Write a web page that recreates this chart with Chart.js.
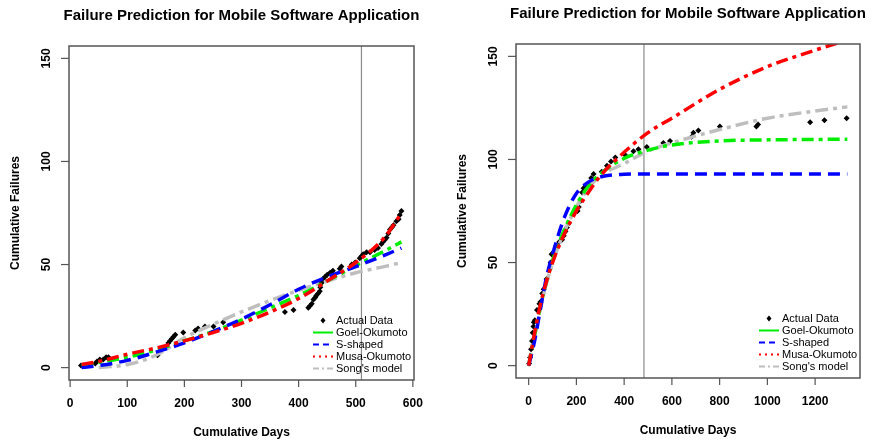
<!DOCTYPE html>
<html>
<head>
<meta charset="utf-8">
<script src="https://cdn.jsdelivr.net/npm/chart.js@4/dist/chart.umd.min.js"></script>
<style>
  html, body { margin: 0; padding: 0; background: #fff; }
  .panel { position: absolute; top: 0; width: 438px; height: 445px; }
</style>
</head>
<body>
<div class="panel" style="left:0"><canvas id="leftChart" width="438" height="445"></canvas></div>
<div class="panel" style="left:438px"><canvas id="rightChart" width="438" height="445"></canvas></div>
<script>
// Left panel: observed data
const leftDays = [19, 23, 44, 47, 52, 58, 63, 67, 153, 172,
    175, 178, 181, 184, 198, 219, 224, 236, 251, 268,
    376, 391, 417, 420, 423, 426, 429, 431, 434, 437,
    438, 440, 443, 446, 450, 455, 460, 472, 475, 493,
    499, 507, 510, 513, 519, 525, 533, 539, 545, 548,
    551, 554, 557, 560, 563, 566, 571, 575, 577, 580];
const leftFailures = [1, 1, 2, 3, 4, 4, 5, 5, 6, 12,
    13, 14, 15, 16, 17, 18, 19, 20, 20, 22,
    27, 28, 29, 30, 31, 33, 34, 35, 36, 37,
    39, 41, 43, 44, 45, 46, 47, 48, 49, 50,
    51, 53, 54, 55, 56, 56, 57, 58, 60, 61,
    62, 63, 65, 67, 68, 69, 71, 72, 74, 76];

// Left panel: model curves
const leftModelDays = [20, 50, 100, 150, 200, 250, 300, 350, 400, 450, 500, 550, 580];
const leftGoel  = [1, 2.5, 5, 8.5, 13, 17.5, 23, 29, 35, 42, 49.5, 56.5, 61];
const leftS     = [0, 1, 3.5, 7.5, 12, 17.5, 23.5, 30.5, 38, 44, 49, 54.5, 58];
const leftMusa  = [1.5, 3, 6.5, 9.5, 13, 17, 21.5, 27, 33.5, 42, 51, 63, 75];
const leftSong  = [null, 0, 1.5, 6, 14.5, 21, 27, 32.5, 37.5, 42, 46, 49, 51];

// Right panel: observed data
const rightDays = [2, 6, 10, 14, 17, 20, 22, 26, 35, 45,
    50, 57, 63, 75, 88, 92, 96, 104, 118, 128,
    140, 147, 154, 160, 168, 205, 210, 218, 224, 230,
    238, 262, 272, 306, 328, 345, 363, 405, 439, 460,
    495, 564, 592, 683, 690, 711, 801, 954, 961, 1179,
    1239, 1332];
const rightFailures = [1, 4, 8, 12, 16, 19, 21, 22, 27, 30,
    31, 35, 37, 42, 47, 50, 54, 55, 58, 60,
    61, 63, 65, 67, 69, 75, 77, 80, 84, 86,
    87, 91, 93, 94, 97, 99, 101, 102, 104, 105,
    106, 108, 109, 111, 113, 114, 116, 116, 117, 118,
    119, 120];

// Right panel: model curves
const rightModelDays = [0, 25, 50, 75, 100, 150, 200, 250, 300, 400, 500, 600, 800, 1000, 1200, 1335];
const rightGoel = [0, 15, 29, 41, 51, 66, 78, 87, 93, 100.5, 104.5, 107, 109, 109.5, 109.7, 109.8];
const rightS    = [0, 12, 28, 43, 54, 72, 83.5, 89, 91.5, 92.8, 93, 93, 93, 93, 93, 93];
const rightMusa = [0, 16, 30, 41, 50, 64, 75, 84, 92, 103.5, 113, 120, 134, 145, 153, 158];
const rightSong = [0, 14, 28, 40, 50, 65, 77, 86, 92, 98, 104, 108, 114.5, 120, 123.5, 125.5];

// cut-off lines and ticks
const leftCutoff = 510;
const rightCutoff = 483;
const leftXTicks = [0, 100, 200, 300, 400, 500, 600];
const rightXTicks = [0, 200, 400, 600, 800, 1000, 1200];
const yTicks = [0, 50, 100, 150];

const titleText = 'Failure Prediction for Mobile Software Application';
const FONT = '"Liberation Sans", Arial, Helvetica, sans-serif';

function pairs(xs, ys) {
    return xs.map((x, i) => ({ x: x, y: ys[i] }));
}

function buildDatasets(days, fails, mDays, goel, s, musa, song, cutoff) {
    const curve = (label, ys, color, dash, order, legendDash) => ({
        label: label,
        data: pairs(mDays, ys),
        borderColor: color,
        borderWidth: 3.5,
        borderDash: dash,
        pointRadius: 0,
        cubicInterpolationMode: 'monotone',
        fill: false,
        order: order,
        legendDash: legendDash
    });
    return [
        {
            label: 'Actual Data',
            data: pairs(days, fails),
            showLine: false,
            pointStyle: 'rectRot',
            pointRadius: 3,
            pointBorderWidth: 0,
            pointBackgroundColor: '#000',
            borderColor: '#000',
            order: 5,
            isPoints: true
        },
        curve('Goel-Okumoto', goel, '#00ee00', [12, 5, 4, 5], 3, []),
        curve('S-shaped', s, '#0000ff', [12, 7], 2, [6, 4]),
        curve('Musa-Okumoto', musa, '#ff0000', [12, 5, 4, 5], 1, [2, 4]),
        curve("Song's model", song, '#bebebe', [13, 5, 4, 5], 4, [6, 3, 2, 3]),
        {
            label: 'cutoff',
            data: [{ x: cutoff, y: -20 }, { x: cutoff, y: 200 }],
            borderColor: '#8a8a8a',
            borderWidth: 1.2,
            pointRadius: 0,
            order: 6,
            clip: 0,
            noLegend: true
        }
    ];
}

const decor = {
    id: 'decor',
    afterDatasetsDraw(chart, args, opts) {
        const ctx = chart.ctx;
        const a = chart.chartArea;
        const xs = chart.scales.x, ys = chart.scales.y;
        ctx.save();
        ctx.strokeStyle = '#555';
        ctx.lineWidth = 1.5;
        ctx.strokeRect(a.left, a.top, a.right - a.left, a.bottom - a.top);

        ctx.fillStyle = '#000';
        ctx.textAlign = 'center';
        ctx.textBaseline = 'middle';
        ctx.font = 'bold 12px ' + FONT;
        ctx.lineWidth = 1.2;
        opts.xTicks.forEach(v => {
            const px = xs.getPixelForValue(v);
            ctx.beginPath();
            ctx.moveTo(px, a.bottom);
            ctx.lineTo(px, a.bottom + 7);
            ctx.stroke();
            ctx.fillText(String(v), px, a.bottom + 24);
        });
        opts.yTicks.forEach(v => {
            const py = ys.getPixelForValue(v);
            ctx.beginPath();
            ctx.moveTo(a.left - 8, py);
            ctx.lineTo(a.left, py);
            ctx.stroke();
            ctx.save();
            ctx.translate(a.left - 22, py);
            ctx.rotate(-Math.PI / 2);
            ctx.fillText(String(v), 0, 0);
            ctx.restore();
        });

        // titles
        const cx = (a.left + a.right) / 2, cy = (a.top + a.bottom) / 2;
        ctx.font = 'bold 15px ' + FONT;
        ctx.fillText(titleText, cx, a.top - 30);
        ctx.font = 'bold 12px ' + FONT;
        ctx.fillText('Cumulative Days', cx, a.bottom + 53);
        ctx.save();
        ctx.translate(opts.yTitleX, cy);
        ctx.rotate(-Math.PI / 2);
        ctx.fillText('Cumulative Failures', 0, 0);
        ctx.restore();

        // legend (bottom right inside the box)
        const lx0 = a.right - 101, lx1 = a.right - 81, tx = a.right - 78;
        let ly = a.bottom - 59.5;
        ctx.textAlign = 'left';
        ctx.font = '11px ' + FONT;
        chart.data.datasets.forEach(ds => {
            if (ds.noLegend) return;
            if (ds.isPoints) {
                const mx = (lx0 + lx1) / 2;
                ctx.beginPath();
                ctx.moveTo(mx, ly - 3);
                ctx.lineTo(mx + 2.5, ly);
                ctx.lineTo(mx, ly + 3);
                ctx.lineTo(mx - 2.5, ly);
                ctx.closePath();
                ctx.fill();
            } else {
                ctx.save();
                ctx.strokeStyle = ds.borderColor;
                ctx.lineWidth = 2;
                ctx.setLineDash(ds.legendDash);
                ctx.beginPath();
                ctx.moveTo(lx0, ly);
                ctx.lineTo(lx1, ly);
                ctx.stroke();
                ctx.restore();
            }
            ctx.fillText(ds.label, tx, ly);
            ly += 12;
        });
        ctx.restore();
    }
};

function makeChart(id, datasets, xMin, xMax, padding, xTicks, yTitleX) {
    const ctx = document.getElementById(id).getContext('2d');
    return new Chart(ctx, {
        type: 'line',
        data: { datasets: datasets },
        options: {
            responsive: false,
            animation: false,
            devicePixelRatio: 1,
            layout: { padding: padding },
            scales: {
                x: { type: 'linear', min: xMin, max: xMax, display: false },
                y: { type: 'linear', min: -6, max: 156, display: false }
            },
            plugins: {
                legend: { display: false },
                tooltip: { enabled: false },
                decor: { xTicks: xTicks, yTicks: yTicks, yTitleX: yTitleX }
            }
        },
        plugins: [decor]
    });
}

makeChart('leftChart',
    buildDatasets(leftDays, leftFailures, leftModelDays, leftGoel, leftS, leftMusa, leftSong, leftCutoff),
    -2, 602, { left: 69, right: 24, top: 46, bottom: 65 }, leftXTicks, 16);

makeChart('rightChart',
    buildDatasets(rightDays, rightFailures, rightModelDays, rightGoel, rightS, rightMusa, rightSong, rightCutoff),
    -53, 1388, { left: 78, right: 16, top: 44, bottom: 67 }, rightXTicks, 25);
</script>
</body>
</html>
